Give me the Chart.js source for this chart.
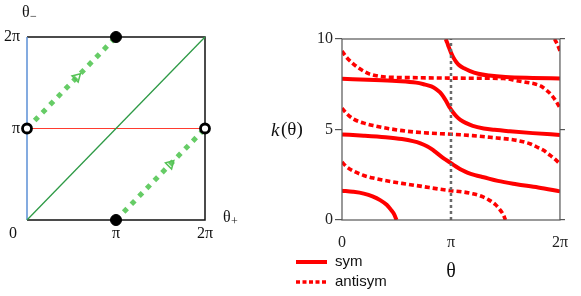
<!DOCTYPE html>
<html>
<head>
<meta charset="utf-8">
<script src="https://cdn.jsdelivr.net/npm/chart.js@4"></script>
<style>
  html, body { margin: 0; padding: 0; background: #fff; }
  body { width: 581px; height: 296px; position: relative; overflow: hidden; }
  .box { position: absolute; top: 0; height: 296px; }
  #left { left: 0; width: 260px; }
  #right { left: 260px; width: 321px; }
</style>
</head>
<body>
<div class="box" id="left"><canvas id="torusChart"></canvas></div>
<div class="box" id="right"><canvas id="kChart"></canvas></div>
<script>
// angles are in units of pi
const thetaTicks = [0, 1, 2];
const thetaTickLabels = ["0", "π", "2π"];
const kTicks = [0, 5, 10];

// k(theta) branches, [theta/pi, k]
const symBranches = [
  [[0, 1.62], [0.1, 1.56], [0.2, 1.46], [0.28, 1.31], [0.35, 1.1], [0.41, 0.84], [0.45, 0.56], [0.48, 0.3], [0.5, 0]],
  [[0, 4.73], [0.2, 4.66], [0.4, 4.57], [0.55, 4.47], [0.65, 4.36], [0.72, 4.24], [0.78, 4.08], [0.82, 3.93],
   [0.86, 3.75], [0.9, 3.56], [0.94, 3.38], [0.98, 3.22], [1.02, 3.06], [1.06, 2.9], [1.1, 2.76], [1.15, 2.62],
   [1.22, 2.48], [1.3, 2.36], [1.43, 2.16], [1.6, 1.98], [1.8, 1.8], [2.0, 1.58]],
  [[0, 7.8], [0.3, 7.74], [0.5, 7.68], [0.68, 7.59], [0.75, 7.5], [0.82, 7.38], [0.86, 7.25], [0.9, 7.05],
   [0.93, 6.82], [0.96, 6.52], [0.99, 6.2], [1.02, 5.94], [1.05, 5.73], [1.09, 5.52], [1.14, 5.35], [1.2, 5.2],
   [1.3, 5.06], [1.4, 4.98], [1.54, 4.9], [1.75, 4.8], [2.0, 4.7]],
  [[0.952, 10], [0.965, 9.8], [0.98, 9.55], [1.0, 9.25], [1.02, 9.0], [1.05, 8.72], [1.08, 8.53], [1.12, 8.38],
   [1.17, 8.24], [1.25, 8.08], [1.35, 7.98], [1.5, 7.9], [1.75, 7.85], [2.0, 7.82]]
];
const antisymBranches = [
  [[0, 3.2], [0.04, 2.95], [0.1, 2.72], [0.2, 2.46], [0.3, 2.3], [0.45, 2.12], [0.6, 1.98], [0.75, 1.84], [0.9, 1.7],
   [1.0, 1.62], [1.1, 1.56], [1.2, 1.45], [1.28, 1.31], [1.35, 1.1], [1.41, 0.84], [1.45, 0.56], [1.48, 0.3], [1.5, 0]],
  [[0, 6.18], [0.04, 5.9], [0.1, 5.6], [0.2, 5.35], [0.3, 5.2], [0.45, 5.03], [0.6, 4.9], [0.8, 4.8], [1.0, 4.74],
   [1.2, 4.66], [1.42, 4.53], [1.55, 4.45], [1.65, 4.34], [1.73, 4.2], [1.8, 4.0], [1.85, 3.85], [1.9, 3.62],
   [1.95, 3.38], [2.0, 3.1]],
  [[0, 9.34], [0.04, 9.0], [0.09, 8.7], [0.14, 8.45], [0.2, 8.22], [0.25, 8.07], [0.33, 7.95], [0.4, 7.9], [0.7, 7.86],
   [1.0, 7.84], [1.3, 7.83], [1.48, 7.82], [1.6, 7.7], [1.7, 7.6], [1.78, 7.5], [1.83, 7.38], [1.88, 7.15],
   [1.92, 6.92], [1.96, 6.6], [2.0, 6.2]],
  [[1.95, 10], [1.97, 9.78], [2.0, 9.35]]
];

// left diagram, (theta+, theta-) in units of pi
const frameBlack = [[0, 2], [2, 2], [2, 0], [0, 0]];
const frameBlue = [[0, 0], [0, 2]];
const redLine = [[0, 1], [2, 1]];
const diagonal = [[0, 0], [2, 2]];
const flowUpper = [[0, 1], [1, 2]];
const flowLower = [[1, 0], [2, 1]];
const solidDots = [[1, 2], [1, 0]];
const ringDots = [[0, 1], [2, 1]];
const arrowPts = [[0.56, 1.56], [1.61, 0.61]];

const serif = "'Liberation Serif', 'Times New Roman', serif";
const sans = "'Liberation Sans', Arial, sans-serif";

function toXY(list) {
  return list.map(p => ({ x: p[0], y: p[1] }));
}

function joinBranches(branches) {
  const pts = [];
  branches.forEach((b, i) => {
    if (i > 0) pts.push({ x: b[0][0], y: null });
    b.forEach(p => pts.push({ x: p[0], y: p[1] }));
  });
  return pts;
}

function lineSet(list, color, width, dash) {
  return {
    data: toXY(list), showLine: true, borderColor: color, borderWidth: width,
    borderDash: dash || [], pointRadius: 0, clip: false
  };
}

// ---------- left: torus square ----------
const leftLabels = {
  id: "leftLabels",
  afterDraw(chart) {
    const ctx = chart.ctx;
    const x = chart.scales.x, y = chart.scales.y;
    ctx.save();
    ctx.fillStyle = "#111";
    ctx.font = "16px " + serif;
    ctx.textBaseline = "middle";
    ctx.textAlign = "right";
    [1, 2].forEach(v => ctx.fillText(thetaTickLabels[v], x.left - 7, y.getPixelForValue(v)));
    ctx.textAlign = "center";
    [1, 2].forEach(v => ctx.fillText(thetaTickLabels[v], x.getPixelForValue(v), y.bottom + 14));
    ctx.fillText(thetaTickLabels[0], x.left - 14, y.bottom + 14);
    ctx.textAlign = "left";
    ctx.fillText("θ", 22, 13);
    ctx.fillText("θ", x.right + 18, y.bottom - 2);
    ctx.font = "12px " + serif;
    ctx.fillText("−", 30, 17);
    ctx.fillText("+", x.right + 26, y.bottom + 2);
    ctx.restore();
  }
};

new Chart(document.getElementById("torusChart"), {
  type: "scatter",
  data: {
    datasets: [
      { data: toXY(solidDots), pointRadius: 5.5, backgroundColor: "#000", borderColor: "#000", clip: false },
      { data: toXY(ringDots), pointRadius: 4.5, borderWidth: 2.8, backgroundColor: "#fff", borderColor: "#000", clip: false },
      { data: toXY(arrowPts), pointStyle: "triangle", rotation: 45, pointRadius: 5, borderWidth: 1.5,
        backgroundColor: "rgba(0,0,0,0)", borderColor: "#55c255", clip: false },
      lineSet(flowUpper, "#66cc66", 5, [5, 6]),
      lineSet(flowLower, "#66cc66", 5, [5, 6]),
      lineSet(diagonal, "#2e9a46", 1.3),
      lineSet(redLine, "#ff3b2f", 1),
      lineSet(frameBlue, "#5b8fd6", 1.5),
      lineSet(frameBlack, "#111", 1.5)
    ]
  },
  options: {
    responsive: true,
    maintainAspectRatio: false,
    animation: false,
    layout: { padding: { left: 27, right: 55, top: 37, bottom: 76 } },
    plugins: { legend: { display: false }, tooltip: { enabled: false } },
    scales: {
      x: { type: "linear", min: 0, max: 2, display: false },
      y: { type: "linear", min: 0, max: 2, display: false }
    }
  },
  plugins: [leftLabels]
});

// ---------- right: k(theta) ----------
const plotFrame = {
  id: "plotFrame",
  afterDatasetsDraw(chart) {
    const a = chart.chartArea, ctx = chart.ctx;
    ctx.save();
    ctx.strokeStyle = "#555";
    ctx.lineWidth = 1.2;
    ctx.strokeRect(a.left, a.top, a.right - a.left, a.bottom - a.top);
    ctx.restore();
  }
};

const rightLabels = {
  id: "rightLabels",
  afterDraw(chart) {
    const ctx = chart.ctx;
    const x = chart.scales.x, y = chart.scales.y;
    ctx.save();
    ctx.fillStyle = "#111";
    ctx.textBaseline = "middle";
    ctx.font = "italic 19px " + serif;
    ctx.textAlign = "left";
    ctx.fillText("k", 11, y.getPixelForValue(5) + 1);
    ctx.font = "19px " + serif;
    ctx.fillText("(θ)", 21, y.getPixelForValue(5) + 1);
    ctx.textAlign = "center";
    ctx.font = "20px " + serif;
    ctx.fillText("θ", x.getPixelForValue(1), 272);

    // legend
    const items = chart.data.datasets.filter(d => d.label === "sym" || d.label === "antisym");
    items.forEach((d, i) => {
      const ly = 262 + i * 20;
      ctx.strokeStyle = d.borderColor;
      ctx.lineWidth = d.borderWidth;
      ctx.setLineDash(d.label === "sym" ? [] : [4, 2.5]);
      ctx.beginPath();
      ctx.moveTo(36, ly);
      ctx.lineTo(67, ly);
      ctx.stroke();
      ctx.setLineDash([]);
      ctx.font = "15px " + sans;
      ctx.textAlign = "left";
      ctx.fillStyle = "#111";
      ctx.fillText(d.label, 75, ly);
    });
    ctx.restore();
  }
};

const setTicks = list => scale => { scale.ticks = list.map(v => ({ value: v })); };

new Chart(document.getElementById("kChart"), {
  type: "line",
  data: {
    datasets: [
      { label: "pi", data: [{ x: 1, y: 0 }, { x: 1, y: 10 }], borderColor: "#6a6a6a", borderWidth: 2.5,
        borderDash: [3, 3], pointRadius: 0 },
      { label: "sym", data: joinBranches(symBranches), borderColor: "#ff0000", borderWidth: 4,
        pointRadius: 0, cubicInterpolationMode: "monotone" },
      { label: "antisym", data: joinBranches(antisymBranches), borderColor: "#ff0000", borderWidth: 3.6,
        borderDash: [5, 3], pointRadius: 0, cubicInterpolationMode: "monotone" }
    ]
  },
  options: {
    responsive: true,
    maintainAspectRatio: false,
    animation: false,
    layout: { padding: { top: 39, left: 0, right: 0, bottom: 0 } },
    plugins: { legend: { display: false }, tooltip: { enabled: false } },
    scales: {
      x: {
        type: "linear", min: 0, max: 2,
        afterBuildTicks: setTicks(thetaTicks),
        ticks: {
          callback: v => thetaTickLabels[thetaTicks.indexOf(v)],
          padding: 13, color: "#222", font: { family: serif, size: 16 }, maxRotation: 0
        },
        grid: { display: false, drawTicks: false },
        border: { display: false },
        afterFit: s => { s.height = 76; }
      },
      y: {
        type: "linear", min: 0, max: 10,
        afterBuildTicks: setTicks(kTicks),
        ticks: { padding: 2, color: "#222", font: { family: serif, size: 16 } },
        grid: { drawOnChartArea: false, tickLength: 7, color: "#555", lineWidth: 1.2 },
        border: { display: false },
        afterFit: s => { s.width = 82; }
      },
      y2: {
        type: "linear", position: "right", min: 0, max: 10,
        afterBuildTicks: setTicks(kTicks),
        ticks: { display: false },
        grid: { drawOnChartArea: false, tickLength: 5, color: "#555", lineWidth: 1.2 },
        border: { display: false },
        afterFit: s => { s.width = 8; }
      }
    }
  },
  plugins: [plotFrame, rightLabels]
});
</script>
</body>
</html>
